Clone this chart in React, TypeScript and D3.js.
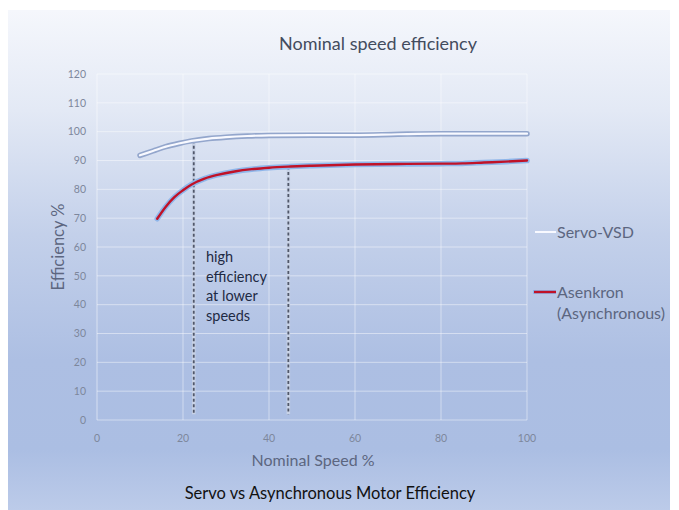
import React from "react";
import * as d3 from "d3";

const xTicks = [0, 20, 40, 60, 80, 100];
const yTicks = [0, 10, 20, 30, 40, 50, 60, 70, 80, 90, 100, 110, 120];

const servoSpeed = [10, 13, 16, 19, 22, 26, 30, 35, 40, 50, 60, 70, 80, 90, 100];
const servoEff = [91.8, 93.3, 94.8, 95.9, 96.8, 97.6, 98.1, 98.5, 98.7, 98.8, 98.8, 99.1, 99.3, 99.3, 99.3];

const asyncSpeed = [14, 16, 18, 20, 22, 25, 28, 32, 36, 40, 45, 50, 60, 70, 80, 85, 90, 95, 100];
const asyncEff = [69.8, 74.0, 77.3, 79.7, 81.7, 83.7, 85.0, 86.2, 87.0, 87.5, 87.9, 88.2, 88.6, 88.8, 88.9, 89.0, 89.3, 89.6, 90.0];

const markerSpeeds = [22.5, 44.5];
const markerTops = [97.0, 87.9];

const title = "Nominal speed efficiency";
const yTitle = "Efficiency %";
const xTitle = "Nominal Speed %";
const caption = "Servo vs Asynchronous Motor Efficiency";
const annotation = ["high", "efficiency", "at lower", "speeds"];
const legendItems = ["Servo-VSD", "Asenkron", "(Asynchronous)"];

export default function App() {
  const W = 679, H = 510;
  const x = d3.scaleLinear().domain([0, 100]).range([97, 527]);
  const y = d3.scaleLinear().domain([0, 120]).range([420, 74]);
  const line = d3
    .line<[number, number]>()
    .x((d) => x(d[0]))
    .y((d) => y(d[1]))
    .curve(d3.curveMonotoneX);
  const servoPts = servoSpeed.map((s, i) => [s, servoEff[i]] as [number, number]);
  const asyncPts = asyncSpeed.map((s, i) => [s, asyncEff[i]] as [number, number]);
  const font = "Lato, 'Open Sans', sans-serif";

  return (
    <svg width={W} height={H} style={{ position: "absolute", left: 0, top: 0 }} fontFamily={font}>
      <defs>
        <linearGradient id="bg" x1="0" y1="0" x2="0" y2="1">
          <stop offset="0" stopColor="#f5f7fc" />
          <stop offset="0.2" stopColor="#e3e9f5" />
          <stop offset="0.45" stopColor="#c3d0ea" />
          <stop offset="0.7" stopColor="#adbfe3" />
          <stop offset="0.88" stopColor="#abbee3" />
          <stop offset="1" stopColor="#bccbe9" />
        </linearGradient>
      </defs>
      <rect x={0} y={0} width={W} height={H} fill="#ffffff" />
      <rect x={8} y={10} width={662} height={500} fill="url(#bg)" />

      {/* gridlines */}
      {yTicks.map((t) => (
        <line key={"gy" + t} x1={x(0)} x2={x(100)} y1={y(t)} y2={y(t)} stroke="#ffffff" strokeOpacity={0.45} strokeWidth={1} />
      ))}
      {xTicks.map((t) => (
        <line key={"gx" + t} x1={x(t)} x2={x(t)} y1={y(120)} y2={y(0)} stroke="#ffffff" strokeOpacity={t === 0 ? 0.5 : 0.45} strokeWidth={1} />
      ))}

      {/* tick labels */}
      {yTicks.map((t) => (
        <text key={"ty" + t} x={86} y={y(t)} dy="0.35em" textAnchor="end" fontSize={10.5} fill="#7d879c">{t}</text>
      ))}
      {xTicks.map((t) => (
        <text key={"tx" + t} x={x(t)} y={438} dy="0.35em" textAnchor="middle" fontSize={10.5} fill="#7d879c">{t}</text>
      ))}

      {/* dashed markers */}
      {markerSpeeds.map((s, i) => (
        <g key={"m" + i}>
          <line x1={x(s)} x2={x(s)} y1={y(markerTops[i])} y2={y(2)} stroke="#c8d2e6" strokeWidth={3.5} />
          <line x1={x(s)} x2={x(s)} y1={y(markerTops[i])} y2={y(2)} stroke="#50576a" strokeWidth={1.8} strokeDasharray="3,2.5" />
        </g>
      ))}

      {/* series */}
      <path d={line(servoPts) || ""} fill="none" stroke="#93a6cc" strokeWidth={5.5} strokeLinecap="round" />
      <path d={line(servoPts) || ""} fill="none" stroke="#f8f9ff" strokeWidth={2.2} strokeLinecap="round" />
      <path d={line(asyncPts) || ""} fill="none" stroke="#8fb6ea" strokeWidth={5.5} strokeLinecap="round" />
      <path d={line(asyncPts) || ""} fill="none" stroke="#c01228" strokeWidth={2.4} strokeLinecap="round" />

      {/* annotation */}
      {annotation.map((t, i) => (
        <text key={"a" + i} x={206} y={262 + i * 19.5} fontSize={14.5} fill="#1e2a44">{t}</text>
      ))}

      {/* titles */}
      <text x={378} y={50} textAnchor="middle" fontSize={18} fill="#434c5e">{title}</text>
      <text transform={`translate(64,${y(60)}) rotate(-90)`} textAnchor="middle" fontSize={16.5} fill="#5c6680">{yTitle}</text>
      <text x={313} y={466} textAnchor="middle" fontSize={16} fill="#5c6680">{xTitle}</text>
      <text x={330} y={499} textAnchor="middle" fontSize={16.5} fill="#111111">{caption}</text>

      {/* legend */}
      <line x1={535} x2={556} y1={232} y2={232} stroke="#f8f9ff" strokeWidth={2} />
      <text x={557} y={232} dy="0.35em" fontSize={16} fill="#5c6680">{legendItems[0]}</text>
      <line x1={533} x2={556} y1={292} y2={292} stroke="#8fb6ea" strokeWidth={4} />
      <line x1={534} x2={556} y1={292} y2={292} stroke="#c01228" strokeWidth={2.4} />
      <text x={557} y={292} dy="0.35em" fontSize={16} fill="#5c6680">{legendItems[1]}</text>
      <text x={557} y={313} dy="0.35em" fontSize={16} fill="#5c6680">{legendItems[2]}</text>
    </svg>
  );
}
